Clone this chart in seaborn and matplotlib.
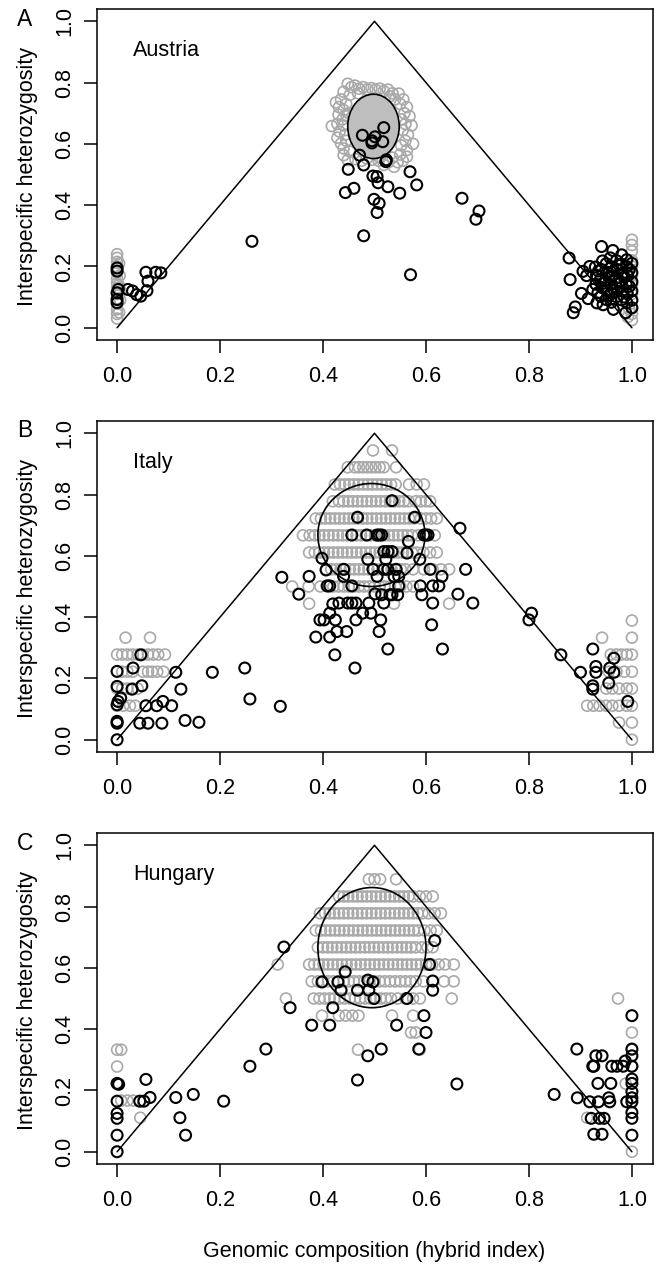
import matplotlib
matplotlib.use("Agg")
import matplotlib.pyplot as plt
from matplotlib.patches import Ellipse
import pandas as pd
import seaborn as sns

sns.set_style("ticks")
plt.rcParams["font.family"] = ["Liberation Sans", "DejaVu Sans"]
plt.rcParams["text.color"] = "black"
plt.rcParams["xtick.labelcolor"] = "black"
plt.rcParams["ytick.labelcolor"] = "black"

# ---------------- Austria (panel A) ----------------
austria_sim = [
    # column at hybrid index 0
    (0.0, 0.03), (0.0, 0.045), (0.0, 0.06), (0.0, 0.078), (0.0, 0.095), (0.0, 0.11), (0.0, 0.13),
    (0.0, 0.145), (0.0, 0.16), (0.0, 0.18), (0.0, 0.2), (0.0, 0.215), (0.0, 0.228), (0.0, 0.24),
    (0.004, 0.05), (0.006, 0.09), (0.003, 0.14), (0.005, 0.17), (0.007, 0.12), (0.004, 0.21),
    # cloud around the F1 expectation
    (0.448, 0.796), (0.455, 0.785), (0.462, 0.79), (0.47, 0.78), (0.478, 0.785), (0.486, 0.778),
    (0.494, 0.782), (0.502, 0.776), (0.51, 0.78), (0.518, 0.772), (0.526, 0.777), (0.535, 0.765),
    (0.547, 0.764), (0.44, 0.77), (0.452, 0.76), (0.468, 0.765), (0.53, 0.755), (0.54, 0.745),
    (0.431, 0.72), (0.425, 0.735), (0.435, 0.745), (0.44, 0.71), (0.445, 0.73), (0.43, 0.695),
    (0.438, 0.68), (0.417, 0.658), (0.428, 0.665), (0.44, 0.66), (0.432, 0.64), (0.443, 0.63),
    (0.428, 0.62), (0.435, 0.601), (0.445, 0.61), (0.44, 0.585), (0.44, 0.563), (0.448, 0.547),
    (0.452, 0.575), (0.45, 0.7), (0.446, 0.69),
    (0.556, 0.745), (0.563, 0.72), (0.55, 0.73), (0.558, 0.7), (0.568, 0.69), (0.552, 0.68),
    (0.56, 0.665), (0.572, 0.66), (0.555, 0.645), (0.565, 0.63), (0.575, 0.6), (0.56, 0.61),
    (0.552, 0.595), (0.563, 0.58), (0.563, 0.558), (0.55, 0.565), (0.555, 0.545),
    (0.538, 0.525), (0.518, 0.531), (0.527, 0.54), (0.508, 0.545), (0.495, 0.548), (0.485, 0.552),
    (0.475, 0.545), (0.463, 0.55), (0.545, 0.54), (0.535, 0.555), (0.51, 0.555),
    # column at hybrid index 1
    (1.0, 0.025), (1.0, 0.045), (1.0, 0.065), (1.0, 0.09), (1.0, 0.11), (1.0, 0.14), (1.0, 0.17),
    (1.0, 0.2), (1.0, 0.22), (1.0, 0.25), (1.0, 0.27), (1.0, 0.287), (0.992, 0.035), (0.995, 0.06),
]
austria_obs = [
    (0.0, 0.195), (0.0, 0.185), (0.0, 0.114), (0.0, 0.092), (0.0, 0.082), (0.0025, 0.125),
    (0.021, 0.125), (0.03, 0.12), (0.038, 0.108), (0.046, 0.103), (0.056, 0.181), (0.06, 0.152),
    (0.058, 0.121), (0.075, 0.181), (0.085, 0.179),
    (0.262, 0.282),
    (0.4765, 0.628), (0.495, 0.61), (0.501, 0.623), (0.495, 0.603), (0.518, 0.653), (0.516, 0.607),
    (0.471, 0.563), (0.479, 0.531), (0.449, 0.517), (0.522, 0.542), (0.523, 0.548), (0.497, 0.495),
    (0.505, 0.493), (0.507, 0.473), (0.526, 0.46), (0.569, 0.509), (0.582, 0.466), (0.549, 0.439),
    (0.4435, 0.441), (0.46, 0.455), (0.499, 0.419), (0.509, 0.406), (0.505, 0.376), (0.479, 0.300),
    (0.670, 0.4225), (0.703, 0.381), (0.697, 0.354), (0.570, 0.173),
    (0.878, 0.2275), (0.880, 0.157), (0.886, 0.049), (0.890, 0.068), (0.902, 0.112), (0.905, 0.184),
    (0.918, 0.2), (0.924, 0.125), (0.934, 0.114), (0.941, 0.265), (0.963, 0.252), (0.932, 0.081),
    (0.944, 0.075), (0.964, 0.06), (0.988, 0.049), (1.0, 0.065), (0.98, 0.238), (0.912, 0.17),
    (0.915, 0.095),
    (0.93, 0.142), (0.931, 0.171), (0.929, 0.198),
    (0.94, 0.102), (0.942, 0.131), (0.939, 0.158), (0.941, 0.19), (0.943, 0.218),
    (0.95, 0.092), (0.951, 0.121), (0.949, 0.152), (0.952, 0.181), (0.95, 0.209),
    (0.96, 0.083), (0.961, 0.112), (0.959, 0.141), (0.962, 0.17), (0.96, 0.199), (0.958, 0.228),
    (0.97, 0.101), (0.971, 0.13), (0.969, 0.161), (0.972, 0.19), (0.97, 0.219),
    (0.98, 0.091), (0.981, 0.12), (0.979, 0.149), (0.982, 0.178), (0.98, 0.207),
    (0.99, 0.082), (0.991, 0.111), (0.989, 0.14), (0.992, 0.17), (0.99, 0.199), (0.99, 0.222),
    (1.0, 0.09), (1.0, 0.12), (1.0, 0.15), (1.0, 0.18), (1.0, 0.21),
    (0.945, 0.145), (0.955, 0.165), (0.965, 0.125), (0.975, 0.145), (0.985, 0.165), (0.995, 0.135),
    (0.935, 0.185), (0.975, 0.205), (0.955, 0.105), (0.985, 0.1), (0.995, 0.19), (0.965, 0.185),
]

# ---------------- Italy (panel B) ----------------
italy_sim_levels = [0.944, 0.889, 0.833, 0.778, 0.722, 0.667, 0.611, 0.556, 0.5, 0.444,
                    0.333, 0.278, 0.222, 0.167, 0.111, 0.056, 0.389, 0.0]
italy_sim_x = [
    [0.497, 0.534],
    [0.448, 0.462, 0.47, 0.478, 0.486, 0.494, 0.502, 0.51, 0.518, 0.542],
    [0.423, 0.433, 0.442, 0.451, 0.46, 0.469, 0.478, 0.487, 0.496, 0.505, 0.514, 0.523, 0.532,
     0.541, 0.567, 0.582, 0.596],
    [0.419, 0.431, 0.44, 0.449, 0.458, 0.467, 0.476, 0.485, 0.494, 0.503, 0.512, 0.521, 0.53,
     0.539, 0.548, 0.557, 0.566, 0.58, 0.59, 0.6, 0.608],
    [0.386, 0.396, 0.405, 0.414, 0.423, 0.432, 0.441, 0.45, 0.459, 0.468, 0.477, 0.486, 0.495,
     0.504, 0.513, 0.522, 0.531, 0.54, 0.549, 0.558, 0.567, 0.576, 0.59, 0.6, 0.61, 0.621],
    [0.361, 0.374, 0.384, 0.393, 0.402, 0.411, 0.42, 0.429, 0.438, 0.447, 0.456, 0.465, 0.474,
     0.483, 0.492, 0.501, 0.51, 0.519, 0.528, 0.537, 0.546, 0.555, 0.564, 0.573, 0.585, 0.6, 0.617],
    [0.373, 0.384, 0.393, 0.402, 0.411, 0.42, 0.429, 0.438, 0.447, 0.456, 0.465, 0.474, 0.483,
     0.492, 0.501, 0.51, 0.519, 0.528, 0.537, 0.546, 0.555, 0.564, 0.573, 0.582, 0.595, 0.608, 0.621],
    [0.406, 0.416, 0.425, 0.434, 0.443, 0.452, 0.461, 0.47, 0.479, 0.488, 0.497, 0.506, 0.515,
     0.524, 0.533, 0.542, 0.551, 0.56, 0.575, 0.596, 0.613, 0.629, 0.645],
    [0.34, 0.372, 0.395, 0.41, 0.42, 0.43, 0.44, 0.45, 0.46, 0.47, 0.48, 0.49, 0.5, 0.51, 0.52,
     0.53, 0.54, 0.55, 0.562, 0.575],
    [0.373, 0.538, 0.645],
    [0.0165, 0.064, 0.942, 1.0],
    [0.0, 0.01, 0.02, 0.03, 0.04, 0.05, 0.06, 0.07, 0.08, 0.093, 0.959, 0.97, 0.98, 0.99, 1.0],
    [0.01, 0.02, 0.03, 0.05, 0.06, 0.068, 0.078, 0.09, 0.955, 0.97, 0.985, 1.0],
    [0.0, 0.01, 0.02, 0.03, 0.04, 0.95, 0.962, 0.975, 0.99, 1.0],
    [0.0, 0.012, 0.025, 0.035, 0.913, 0.925, 0.937, 0.95, 0.962, 0.975, 0.99, 1.0],
    [0.0, 0.975, 1.0],
    [1.0],
    [1.0],
]
italy_obs = [
    (0.0, 0.0), (0.0, 0.054), (0.0, 0.06), (0.0, 0.114), (0.002, 0.125), (0.007, 0.136),
    (0.0, 0.174), (0.0, 0.223), (0.031, 0.234), (0.029, 0.165), (0.048, 0.176), (0.046, 0.277),
    (0.044, 0.054), (0.06, 0.054), (0.056, 0.111), (0.077, 0.111), (0.089, 0.125), (0.106, 0.111),
    (0.087, 0.054), (0.132, 0.063), (0.159, 0.057), (0.114, 0.22), (0.124, 0.165), (0.185, 0.22),
    (0.248, 0.234), (0.258, 0.133), (0.317, 0.109),
    (0.32, 0.53), (0.353, 0.475), (0.373, 0.533), (0.386, 0.335), (0.398, 0.592), (0.406, 0.554),
    (0.394, 0.391), (0.402, 0.391), (0.408, 0.502), (0.413, 0.502), (0.413, 0.335), (0.413, 0.413),
    (0.419, 0.443), (0.424, 0.391), (0.423, 0.277), (0.427, 0.353), (0.431, 0.446), (0.44, 0.556),
    (0.44, 0.533), (0.446, 0.353), (0.448, 0.446), (0.456, 0.446), (0.456, 0.502), (0.464, 0.446),
    (0.464, 0.391), (0.462, 0.234), (0.467, 0.726), (0.456, 0.668), (0.477, 0.413), (0.485, 0.668),
    (0.487, 0.589), (0.489, 0.446), (0.493, 0.413), (0.497, 0.556), (0.501, 0.476), (0.505, 0.533),
    (0.505, 0.668), (0.509, 0.668), (0.514, 0.668), (0.512, 0.391), (0.509, 0.353), (0.514, 0.473),
    (0.518, 0.446), (0.518, 0.556), (0.522, 0.589), (0.518, 0.614), (0.526, 0.614), (0.534, 0.614),
    (0.526, 0.556), (0.53, 0.473), (0.534, 0.473), (0.538, 0.533), (0.542, 0.556), (0.545, 0.473),
    (0.547, 0.533), (0.526, 0.296), (0.534, 0.78), (0.547, 0.502), (0.563, 0.609), (0.566, 0.647),
    (0.578, 0.726), (0.588, 0.589), (0.589, 0.502), (0.592, 0.473), (0.596, 0.668), (0.6, 0.668),
    (0.604, 0.668), (0.608, 0.556), (0.611, 0.375), (0.613, 0.446), (0.613, 0.502), (0.625, 0.502),
    (0.631, 0.533), (0.632, 0.296), (0.662, 0.475), (0.666, 0.69), (0.677, 0.556), (0.691, 0.446),
    (0.805, 0.413), (0.8, 0.391), (0.862, 0.277), (0.9, 0.22), (0.924, 0.296), (0.93, 0.239),
    (0.93, 0.22), (0.924, 0.176), (0.924, 0.165), (0.957, 0.234), (0.965, 0.22), (0.965, 0.266),
    (0.955, 0.185), (0.992, 0.125),
]

# ---------------- Hungary (panel C) ----------------
hungary_sim_levels = [0.889, 0.833, 0.778, 0.722, 0.667, 0.611, 0.556, 0.5, 0.444, 0.389,
                      0.333, 0.278, 0.222, 0.167, 0.111, 0.0]
hungary_sim_x = [
    [0.489, 0.5, 0.511, 0.542],
    [0.431, 0.44, 0.449, 0.458, 0.467, 0.476, 0.485, 0.494, 0.503, 0.512, 0.521, 0.53, 0.539,
     0.548, 0.557, 0.566, 0.575, 0.588, 0.6, 0.613],
    [0.394, 0.404, 0.413, 0.422, 0.431, 0.44, 0.449, 0.458, 0.467, 0.476, 0.485, 0.494, 0.503,
     0.512, 0.521, 0.53, 0.539, 0.548, 0.557, 0.566, 0.575, 0.584, 0.593, 0.605, 0.617, 0.629],
    [0.386, 0.396, 0.405, 0.414, 0.423, 0.432, 0.441, 0.45, 0.459, 0.468, 0.477, 0.486, 0.495,
     0.504, 0.513, 0.522, 0.531, 0.54, 0.549, 0.558, 0.567, 0.576, 0.585, 0.597, 0.609, 0.621],
    [0.39, 0.4, 0.409, 0.418, 0.427, 0.436, 0.445, 0.454, 0.463, 0.472, 0.481, 0.49, 0.499, 0.508,
     0.517, 0.526, 0.535, 0.544, 0.553, 0.562, 0.571, 0.58, 0.592, 0.603, 0.613],
    [0.312, 0.373, 0.383, 0.392, 0.401, 0.41, 0.419, 0.428, 0.437, 0.446, 0.455, 0.464, 0.473,
     0.482, 0.491, 0.5, 0.509, 0.518, 0.527, 0.536, 0.545, 0.554, 0.563, 0.572, 0.581, 0.59, 0.6,
     0.612, 0.625, 0.637, 0.654],
    [0.378, 0.39, 0.4, 0.41, 0.42, 0.43, 0.44, 0.45, 0.46, 0.47, 0.48, 0.49, 0.5, 0.51, 0.52, 0.53,
     0.54, 0.55, 0.56, 0.57, 0.58, 0.595, 0.635, 0.654],
    [0.328, 0.382, 0.393, 0.403, 0.413, 0.422, 0.432, 0.442, 0.452, 0.462, 0.472, 0.482, 0.492,
     0.502, 0.512, 0.522, 0.532, 0.545, 0.56, 0.575, 0.588, 0.65, 0.973],
    [0.398, 0.431, 0.444, 0.457, 0.469, 0.534, 0.575],
    [0.571, 0.58, 1.0],
    [0.0, 0.008, 0.468, 0.588, 1.0],
    [0.0, 1.0],
    [0.0, 0.988],
    [0.008, 0.02, 0.031],
    [0.045, 0.913],
    [1.0],
]
hungary_obs = [
    (0.0, 0.0), (0.0, 0.054), (0.0, 0.109), (0.0, 0.125), (0.0, 0.165), (0.0, 0.223), (0.003, 0.22),
    (0.044, 0.165), (0.052, 0.165), (0.056, 0.236), (0.064, 0.177), (0.114, 0.177), (0.122, 0.111),
    (0.133, 0.054), (0.148, 0.187), (0.207, 0.165), (0.258, 0.279), (0.289, 0.335),
    (0.324, 0.668), (0.336, 0.47), (0.378, 0.413), (0.398, 0.554), (0.413, 0.413), (0.419, 0.47),
    (0.429, 0.554), (0.435, 0.527), (0.443, 0.587), (0.467, 0.527), (0.467, 0.234), (0.487, 0.56),
    (0.489, 0.527), (0.497, 0.554), (0.499, 0.5), (0.487, 0.313), (0.513, 0.335), (0.543, 0.413),
    (0.563, 0.5), (0.586, 0.335), (0.596, 0.444), (0.6, 0.389), (0.607, 0.611), (0.613, 0.557),
    (0.613, 0.527), (0.617, 0.689), (0.66, 0.221),
    (0.849, 0.187), (0.893, 0.335), (0.894, 0.176), (0.918, 0.163), (0.921, 0.109), (0.926, 0.057),
    (0.926, 0.279), (0.93, 0.313), (0.934, 0.223), (0.935, 0.163), (0.937, 0.109), (0.942, 0.057),
    (0.942, 0.313), (0.946, 0.109), (0.955, 0.176), (0.957, 0.163), (0.959, 0.223), (0.961, 0.279),
    (0.971, 0.279), (0.983, 0.279), (0.987, 0.296), (0.99, 0.163), (0.924, 0.279),
    (1.0, 0.444), (1.0, 0.335), (1.0, 0.313), (1.0, 0.279), (1.0, 0.237), (1.0, 0.223), (1.0, 0.196),
    (1.0, 0.176), (1.0, 0.163), (1.0, 0.128), (1.0, 0.109), (1.0, 0.054),
]

# triangle of maximal heterozygosity and 95% ellipses of simulated F1s
tri_x = [0.0, 0.5, 1.0]
tri_y = [0.0, 1.0, 0.0]
ellipses = {"A": (0.498, 0.657, 0.05, 0.105), "B": (0.494, 0.668, 0.104, 0.168),
            "C": (0.495, 0.666, 0.105, 0.196)}

GRAY = "#A9A9A9"
W, H = 664, 1269


def rows_to_df(levels, xs):
    recs = [(x, lv) for lv, row in zip(levels, xs) for x in row]
    return pd.DataFrame(recs, columns=["x", "y"])


def panel(ax, sim, obs, ell, filled, name, letter, top_px):
    sns.scatterplot(data=sim, x="x", y="y", ax=ax, marker="o", s=62, facecolor="none",
                    edgecolor=GRAY, linewidth=1.2, legend=False, zorder=2)
    sns.lineplot(x=tri_x, y=tri_y, ax=ax, color="black", linewidth=1.1, sort=False, zorder=3)
    cx, cy, rx, ry = ell
    ax.add_patch(Ellipse((cx, cy), 2 * rx, 2 * ry, facecolor="#BEBEBE" if filled else "none",
                         edgecolor="black", linewidth=1.2, zorder=4))
    sns.scatterplot(data=obs, x="x", y="y", ax=ax, marker="o", s=62, facecolor="none",
                    edgecolor="black", linewidth=1.5, legend=False, zorder=5)
    ax.set_xlim(-0.04, 1.04)
    ax.set_ylim(-0.04, 1.04)
    ticks = [0.0, 0.2, 0.4, 0.6, 0.8, 1.0]
    ax.set_xticks(ticks)
    ax.set_xticklabels([f"{t:.1f}" for t in ticks])
    ax.set_yticks(ticks)
    ax.set_yticklabels([f"{t:.1f}" for t in ticks], rotation=90, va="center")
    ax.tick_params(axis="both", length=9.5, width=1.1, labelsize=15.5, color="black",
                   labelcolor="black")
    ax.tick_params(axis="x", pad=9)
    ax.tick_params(axis="y", pad=6)
    for sp in ax.spines.values():
        sp.set_visible(True)
        sp.set_linewidth(1.1)
        sp.set_color("black")
    ax.set_xlabel("")
    ax.set_ylabel("")
    ax.text(0.031, 0.905, name, fontsize=15.5, ha="left", va="center", color="black")
    fig.text(25 / W, 1 - (top_px + 10) / H, letter, fontsize=16.5, ha="center", va="center",
             color="black")
    fig.text(28 / W, 1 - (top_px + 168) / H, "Interspecific heterozygosity", fontsize=15.5,
             rotation=90, ha="center", va="center", color="black")


fig = plt.figure(figsize=(W / 100, H / 100), dpi=100)
left, width, height = 96.5 / W, 556 / W, 331 / H
axA = fig.add_axes([left, 1 - 340 / H, width, height])
axB = fig.add_axes([left, 1 - 752 / H, width, height])
axC = fig.add_axes([left, 1 - 1164 / H, width, height])

panel(axA, pd.DataFrame(austria_sim, columns=["x", "y"]), pd.DataFrame(austria_obs, columns=["x", "y"]),
      ellipses["A"], True, "Austria", "A", 9)
panel(axB, rows_to_df(italy_sim_levels, italy_sim_x), pd.DataFrame(italy_obs, columns=["x", "y"]),
      ellipses["B"], False, "Italy", "B", 421)
panel(axC, rows_to_df(hungary_sim_levels, hungary_sim_x), pd.DataFrame(hungary_obs, columns=["x", "y"]),
      ellipses["C"], False, "Hungary", "C", 833)

fig.text(374.5 / W, 1 - 1252 / H, "Genomic composition (hybrid index)", fontsize=15.5,
         ha="center", va="center", color="black")

fig.savefig("out.png", dpi=100)
